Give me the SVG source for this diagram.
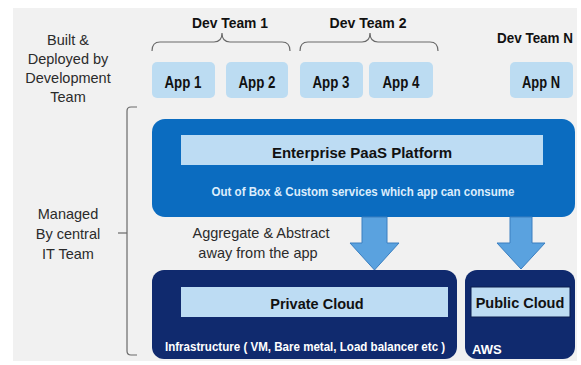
<svg xmlns="http://www.w3.org/2000/svg" width="581" height="365" viewBox="0 0 581 365">
  <style>
    .side { font-family: "Liberation Sans", Arial, sans-serif; font-size: 14.5px; fill: #2b2b2b; text-anchor: middle; }
    .team { font-family: "Liberation Sans", Arial, sans-serif; font-size: 14px; font-weight: bold; fill: #111; text-anchor: middle; }
    .app-box { fill: #bcdcf2; }
    .app-txt { font-family: "Liberation Sans", Arial, sans-serif; font-size: 16px; font-weight: bold; fill: #111; text-anchor: middle; }
    .bar { fill: #bddcf3; }
    .bar-txt { font-family: "Liberation Sans", Arial, sans-serif; font-weight: bold; fill: #111; text-anchor: middle; }
    .sub-txt { font-family: "Liberation Sans", Arial, sans-serif; font-size: 13px; font-weight: bold; }
    .brace { fill: none; stroke: #6a6a6a; stroke-width: 1.2; }
    .block-arrow { fill: #5aa2df; stroke: #3a7fc0; stroke-width: 1; }
    .navy { fill: #102a6e; }
  </style>

  <!-- backdrop -->
  <rect x="0" y="0" width="581" height="365" fill="#ffffff"/>
  <rect x="13" y="8" width="564" height="353" fill="#f1f1f1"/>

  <!-- side captions -->
  <g id="caption-dev">
    <text class="side" x="68" y="45">Built &amp;</text>
    <text class="side" x="68" y="64">Deployed by</text>
    <text class="side" x="68" y="83">Development</text>
    <text class="side" x="68" y="102">Team</text>
  </g>
  <g id="caption-it">
    <text class="side" x="68" y="219">Managed</text>
    <text class="side" x="68" y="239">By central</text>
    <text class="side" x="68" y="259">IT Team</text>
  </g>

  <!-- team labels -->
  <g id="team-1"><text class="team" x="230" y="28" textLength="76" lengthAdjust="spacingAndGlyphs">Dev Team 1</text></g>
  <g id="team-2"><text class="team" x="368" y="28" textLength="77" lengthAdjust="spacingAndGlyphs">Dev Team 2</text></g>
  <g id="team-n"><text class="team" x="535" y="43" textLength="76" lengthAdjust="spacingAndGlyphs">Dev Team N</text></g>

  <!-- apps -->
  <g id="app-1"><rect class="app-box" x="152" y="62" width="63" height="36" rx="5"/><text class="app-txt" x="183" y="88" textLength="37" lengthAdjust="spacingAndGlyphs">App 1</text></g>
  <g id="app-2"><rect class="app-box" x="226" y="62" width="62" height="36" rx="5"/><text class="app-txt" x="257" y="88" textLength="37" lengthAdjust="spacingAndGlyphs">App 2</text></g>
  <g id="app-3"><rect class="app-box" x="300" y="62" width="63" height="36" rx="5"/><text class="app-txt" x="331" y="88" textLength="37" lengthAdjust="spacingAndGlyphs">App 3</text></g>
  <g id="app-4"><rect class="app-box" x="369" y="62" width="64" height="36" rx="5"/><text class="app-txt" x="401" y="88" textLength="37" lengthAdjust="spacingAndGlyphs">App 4</text></g>
  <g id="app-n"><rect class="app-box" x="510" y="62" width="63" height="36" rx="5"/><text class="app-txt" x="541" y="88" textLength="38" lengthAdjust="spacingAndGlyphs">App N</text></g>

  <!-- enterprise platform -->
  <g id="paas">
    <rect x="152" y="119" width="423" height="98" rx="13" fill="#0b6cc0"/>
    <rect class="bar" x="181" y="135" width="362" height="30"/>
    <text class="bar-txt" x="362" y="158" font-size="15">Enterprise PaaS Platform</text>
    <text class="sub-txt" x="363" y="196" fill="#dcedfc" text-anchor="middle" textLength="303" lengthAdjust="spacingAndGlyphs">Out of Box &amp; Custom services which app can consume</text>
  </g>

  <!-- abstraction note -->
  <g id="note">
    <text class="side" x="261" y="238" font-size="15">Aggregate &amp; Abstract</text>
    <text class="side" x="258" y="258" font-size="15">away from the app</text>
  </g>

  <!-- private cloud -->
  <g id="private-cloud">
    <rect class="navy" x="152" y="270" width="305" height="89" rx="12"/>
    <rect class="bar" x="181" y="287" width="267" height="30"/>
    <text class="bar-txt" x="317" y="309" font-size="14.5">Private Cloud</text>
    <!-- narrowed horizontally so the line fits inside the box -->
    <text class="sub-txt" transform="translate(165,351) scale(0.89,1)" fill="#ffffff">Infrastructure ( VM, Bare metal, Load balancer etc )</text>
  </g>

  <!-- public cloud -->
  <g id="public-cloud">
    <rect class="navy" x="465" y="270" width="110" height="89" rx="12"/>
    <rect class="bar" x="471" y="287" width="99" height="30" stroke="#0a1d4f" stroke-width="1"/>
    <text class="bar-txt" x="520" y="308" font-size="14.5">Public Cloud</text>
    <text class="sub-txt" x="472" y="354" fill="#ffffff" font-size="12">AWS</text>
  </g>

  <!-- connectors -->
  <g id="connectors">
    <path class="brace" d="M152,51 Q152,42 160,42 L214,42 Q222,42 222,33 Q222,42 230,42 L282,42 Q290,42 290,51"/>
    <path class="brace" d="M300,51 Q300,42 308,42 L362,42 Q370,42 370,33 Q370,42 378,42 L430,42 Q438,42 438,51"/>
    <path class="brace" d="M137,107 L131,107 Q127,107 127,111 L127,351 Q127,355 131,355 L137,355"/>
    <path class="brace" d="M118,233 L127,233"/>
    <polygon class="block-arrow" points="362,217 387,217 387,243 399,243 374.5,270 350,243 362,243"/>
    <polygon class="block-arrow" points="510,217 532,217 532,243 545,243 521,269 497,243 510,243"/>
  </g>
</svg>
